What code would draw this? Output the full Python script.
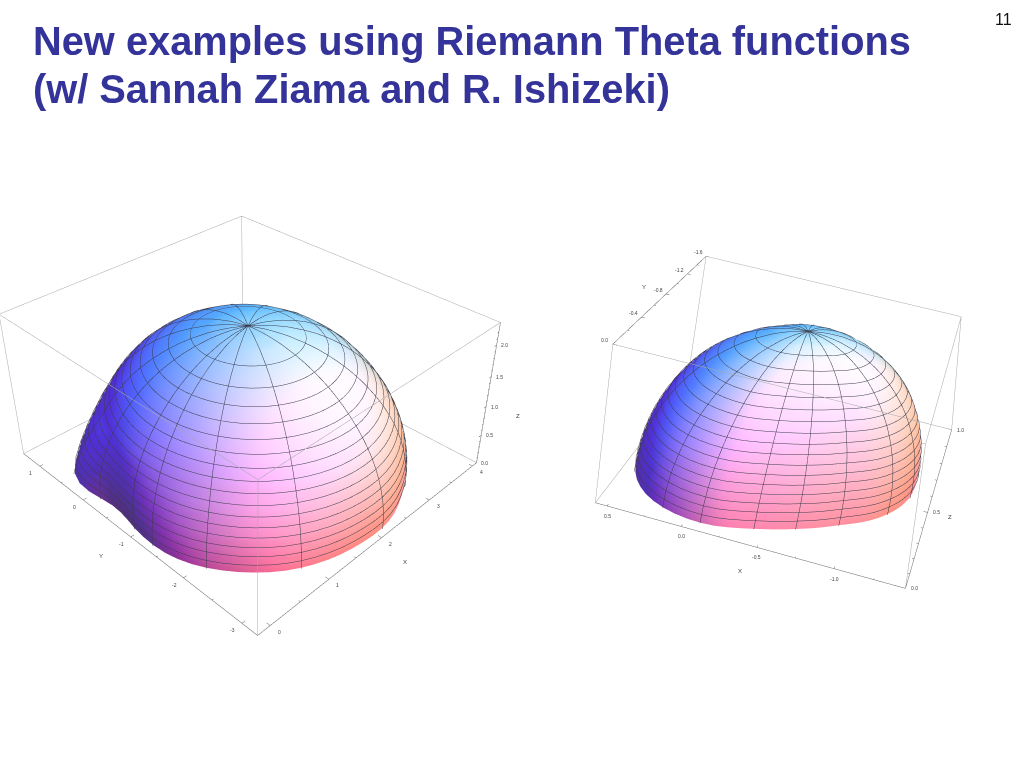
import numpy as np, plotly.graph_objects as go

TITLE = ["New examples using Riemann Theta functions", "(w/ Sannah Ziama and R. Ishizeki)"]
PAGE = "11"

# Dome outlines: radius (fraction of half box) read every 5 degrees round the box centre
rim_angle = list(range(0, 360, 5))
L_rim_base = [.954,.954,.957,.960,.963,.966,.969,.971,.973,.975,.977,.978,.979,.978,.977,.975,.973,.972,.973,.976,
              .980,.985,.990,.997,1.008,1.025,1.046,1.067,1.081,1.083,1.063,1.022,.973,.937,.923,.926,.939,.952,.966,.978,
              .986,.990,.990,.988,.986,.983,.981,.978,.973,.968,.963,.959,.955,.954,.956,.959,.960,.959,.956,.954,
              .955,.957,.961,.965,.968,.970,.970,.969,.968,.964,.960,.956]
L_rim_top = [.97] * 72
R_rim_base = [.938,.960,.977,.993,1.011,1.029,1.044,1.055,1.061,1.061,1.053,1.038,1.018,.993,.963,.927,.885,.845,.811,.784,
              .763,.745,.731,.722,.717,.714,.714,.719,.731,.748,.768,.789,.810,.833,.858,.885,.912,.941,.970,1.001,
              1.032,1.059,1.080,1.091,1.095,1.091,1.079,1.061,1.039,1.015,.992,.970,.950,.931,.910,.889,.868,.847,.827,.808,
              .791,.775,.762,.755,.758,.769,.783,.799,.817,.841,.873,.907]
# Rings: height (fraction of the peak) and ring radius (fraction of the outline)
ring_t = [0,.029,.059,.088,.118,.147,.176,.206,.235,.265,.294,.324,.353,.382,.412,.441,.471,.5,.529,.559,
          .588,.618,.647,.676,.706,.735,.765,.794,.824,.853,.882,.912,.941,.971,.98,.99,.995,1.]
ring_r = [1.,1.,.998,.996,.993,.989,.984,.979,.972,.964,.956,.946,.936,.924,.911,.897,.882,.866,.848,.829,
          .809,.786,.762,.736,.708,.678,.644,.608,.567,.522,.471,.411,.338,.241,.199,.141,.1,0.]
L_blend = [1,.935,.869,.804,.739,.673,.608,.542,.477,.412,.346,.281,.216,.15,.085,.02] + [0] * 22
R_blend = [1] * 38
L_meridians = [160,180,190,210,240,275,300,325,345,10,30,55,80,105,125,145]
R_meridians = [5,30,55,70,90,110,135,165,185,210,235,250,270,290,315,345]
ring_lines = list(range(2, 33, 2))

L_range = dict(x=(-.2, 4.1), y=(-3.25, 1.4), z=(0, 2.35))
R_range = dict(x=(-1.45, .58), y=(-1.6, 0), z=(0, 1.0))
L_peak = 2.23
R_peak = .98
L_xt = [0, 1, 2, 3, 4]; L_yt = [1, 0, -1, -2, -3]; L_zt = [0, .5, 1, 1.5, 2]
R_xt = [.5, 0, -.5, -1]; R_yt = [-1.6, -1.2, -.8, -.4, 0]; R_zt = [0, .5, 1]
L_xm = [0,.5,1,1.5,2,2.5,3,3.5,4]; L_ym = [-3,-2.5,-2,-1.5,-1,-.5,0,.5,1]
L_zm = [0,.1,.2,.3,.4,.5,.6,.7,.8,.9,1,1.1,1.2,1.3,1.4,1.5,1.6,1.7,1.8,1.9,2,2.1,2.2]
R_xm = [-1.25,-1,-.75,-.5,-.25,0,.25,.5]; R_ym = [-1.6,-1.4,-1.2,-1,-.8,-.6,-.4,-.2,0]
R_zm = [0,.1,.2,.3,.4,.5,.6,.7,.8,.9,1]

L_cam = [-1.584, -1.603, 1.543, .045, .013, .001]; L_asp = [.961, 1.030, .5]
R_cam = [-.273, 2.593, 1.248, .101, -.082, .189]; R_asp = [.907, .899, .5]

def cam(c):
    e = np.array(c[:3]); ce = np.array([c[3], c[4], 0.0]); roll = c[5]
    f = ce - e; f /= np.linalg.norm(f)
    r = np.cross(f, [0, 0, 1.0]); r /= np.linalg.norm(r)
    u = np.cross(r, f)
    return e, ce, f, np.cos(roll) * r + np.sin(roll) * u, np.cos(roll) * u - np.sin(roll) * r

LIGHTS = [((.8, 0, 0), (1.5, -.5, 2)), ((0, .8, 0), (1.5, 1.5, 2)), ((0, 0, .8), (-.5, 1.5, 2)), ((.2, 0, .26), (4, 1, 1.2))]
AMB = np.array([.312, .188, .33])
VIEW_SIZE = 1.7
GRID = "#3c3c4c"; EDGE = "#a8a8a8"; AXIS = "#666666"; TICK_TEXT = "#444444"; TITLE_COLOR = "#333399"

fig = go.Figure()

def dome(scene, rng, camc, asp, rimbase, rimtop, blend, mer, peak):
    e, ce, f, r, u = cam(camc)
    hx = (rng['x'][1] - rng['x'][0]) / 2; hy = (rng['y'][1] - rng['y'][0]) / 2
    cx = sum(rng['x']) / 2; cy = sum(rng['y']) / 2; zt = rng['z'][1]
    th = np.deg2rad(np.array(rim_angle, float))
    t = np.array(ring_t, float); b = np.array(blend, float)
    R = (np.outer(1 - b, rimtop) + np.outer(b, rimbase)) * np.array(ring_r)[:, None]
    X = cx + hx * R * np.cos(th); Y = cy + hy * R * np.sin(th); Z = np.outer(t * peak, np.ones(72))
    P = np.stack([(X - cx) / (2 * hx) * asp[0], (Y - cy) / (2 * hy) * asp[1], (Z / zt - .5) * asp[2]], -1)
    N = np.cross(np.roll(P, -1, 1) - np.roll(P, 1, 1), np.gradient(P, axis=0))
    N /= np.linalg.norm(N, axis=-1, keepdims=True) + 1e-12
    N[-1] = [0, 0, 1]
    if np.sum(N[0] * (P[0] * [1, 1, 0])) < 0:
        N = -N
    px = (P @ r)[..., None] / VIEW_SIZE; py = (P @ u)[..., None] / VIEW_SIZE
    col = np.tile(AMB, (N.shape[0], 72, 1))
    for c, l in LIGHTS:
        d = (l[0] - px) * r + (l[1] - py) * u - l[2] * f
        d /= np.linalg.norm(d, axis=-1, keepdims=True)
        col = col + np.array(c) * np.clip(np.sum(N * d, -1), 0, None)[..., None]
    col = np.clip(col, 0, 1)
    n = len(t)
    idx = lambda i, j: i * 72 + (j % 72)
    I = []; J = []; K = []
    for i in range(n - 1):
        for j in range(72):
            I += [idx(i, j), idx(i, j)]; J += [idx(i, j + 1), idx(i + 1, j + 1)]; K += [idx(i + 1, j + 1), idx(i + 1, j)]
    vc = [f"rgb({a*255:.0f},{g*255:.0f},{c*255:.0f})" for a, g, c in col.reshape(-1, 3)]
    fig.add_trace(go.Mesh3d(x=X.ravel(), y=Y.ravel(), z=Z.ravel(), i=I, j=J, k=K, vertexcolor=vc, flatshading=False,
                            lighting=dict(ambient=1, diffuse=0, specular=0, fresnel=0, roughness=1),
                            hoverinfo="skip", scene=scene, showscale=False))
    lx = []; ly = []; lz = []
    o = 1.006
    for i in ring_lines:
        lx += list(cx + (X[i] - cx) * o) + [cx + (X[i, 0] - cx) * o, None]
        ly += list(cy + (Y[i] - cy) * o) + [cy + (Y[i, 0] - cy) * o, None]
        lz += list(Z[i]) + [Z[i, 0], None]
    for a in mer:
        j = int(a / 5) % 72
        lx += list(cx + (X[:, j] - cx) * o) + [None]; ly += list(cy + (Y[:, j] - cy) * o) + [None]; lz += list(Z[:, j] * 1.003) + [None]
    fig.add_trace(go.Scatter3d(x=lx, y=ly, z=lz, mode="lines", line=dict(color=GRID, width=1), hoverinfo="skip", scene=scene, showlegend=False))

def box(scene, rng, axes):
    x0, x1 = rng['x']; y0, y1 = rng['y']; z0, z1 = rng['z']
    C = lambda a, b, c: ((x0, x1)[a], (y0, y1)[b], (z0, z1)[c])
    gap = (None,) * 3
    seq = [C(0,0,0),C(1,0,0),C(1,1,0),C(0,1,0),C(0,0,0),gap,C(0,0,1),C(1,0,1),C(1,1,1),C(0,1,1),C(0,0,1),gap,
           C(0,0,0),C(0,0,1),gap,C(1,0,0),C(1,0,1),gap,C(1,1,0),C(1,1,1),gap,C(0,1,0),C(0,1,1)]
    fig.add_trace(go.Scatter3d(x=[p[0] for p in seq], y=[p[1] for p in seq], z=[p[2] for p in seq], mode="lines",
                               line=dict(color=EDGE, width=1), hoverinfo="skip", scene=scene, showlegend=False))
    pts = []
    for (a, b, c, ticks, major, d) in axes:
        for v in ticks:
            L = .012 if v in major else .006
            if d == 'x':
                s = C(0, b, c); p = [v, s[1], s[2]]; q = [v, s[1] + (y1 - y0) * (1 if b == 0 else -1) * L, s[2]]
            elif d == 'y':
                s = C(a, 0, c); p = [s[0], v, s[2]]; q = [s[0] + (x1 - x0) * (1 if a == 0 else -1) * L, v, s[2]]
            else:
                s = C(a, b, 0); p = [s[0], s[1], v]; q = [s[0] + (x1 - x0) * (1 if a == 0 else -1) * L, s[1], v]
            pts += [p, q, [None] * 3]
        l = {'x': [C(0,b,c), C(1,b,c)], 'y': [C(a,0,c), C(a,1,c)], 'z': [C(a,b,0), C(a,b,1)]}[d]
        pts += [list(l[0]), list(l[1]), [None] * 3]
    fig.add_trace(go.Scatter3d(x=[p[0] for p in pts], y=[p[1] for p in pts], z=[p[2] for p in pts], mode="lines",
                               line=dict(color=AXIS, width=1), hoverinfo="skip", scene=scene, showlegend=False))

dome("scene", L_range, L_cam, L_asp, L_rim_base, L_rim_top, L_blend, L_meridians, L_peak)
box("scene", L_range, [(0,0,0,L_xm,L_xt,'x'), (0,0,0,L_ym,L_yt,'y'), (1,0,0,L_zm,L_zt,'z')])
dome("scene2", R_range, R_cam, R_asp, R_rim_base, R_rim_base, R_blend, R_meridians, R_peak)
box("scene2", R_range, [(0,1,0,R_xm,R_xt,'x'), (1,0,1,R_ym,R_yt,'y'), (0,1,0,R_zm,R_zt,'z')])

def ann(vals, fn, fmt, xs, ys):
    return [dict(x=fn(v)[0], y=fn(v)[1], z=fn(v)[2], text=fmt(v), showarrow=False, xshift=xs, yshift=ys,
                 font=dict(size=5, color=TICK_TEXT, family="Liberation Sans")) for v in vals]

def scene(dom, rng, c, asp, anns):
    e, ce, f, r, u = cam(c)
    def ax(k):
        a, b = rng[k]; p = (b - a) * .002
        return dict(visible=False, range=[a - p, b + p])
    return dict(domain=dict(x=dom, y=[0, 1]), aspectmode="manual", aspectratio=dict(x=asp[0], y=asp[1], z=asp[2]),
                bgcolor="rgba(0,0,0,0)",
                camera=dict(eye=dict(x=e[0], y=e[1], z=e[2]), center=dict(x=ce[0], y=ce[1], z=0), up=dict(x=u[0], y=u[1], z=u[2])),
                xaxis=ax('x'), yaxis=ax('y'), zaxis=ax('z'), annotations=anns)

fx = lambda v: f"{v:g}"; f1 = lambda v: f"{v:.1f}"
Lan = (ann(L_xt, lambda v: (v, L_range['y'][0], 0), fx, 9, -6) + ann(L_yt, lambda v: (L_range['x'][0], v, 0), fx, -9, -7)
       + ann(L_zt, lambda v: (L_range['x'][1], L_range['y'][0], v), f1, 8, 0))
Ran = (ann(R_xt, lambda v: (v, 0, 0), f1, 0, -10) + ann(R_yt, lambda v: (R_range['x'][1], v, 1), f1, -8, 4)
       + ann(R_zt, lambda v: (R_range['x'][0], 0, v), f1, 9, 0))
axis_titles = [("Y", 101, 556), ("X", 405, 562), ("Z", 518, 416), ("X", 740, 571), ("Y", 644, 287), ("Z", 950, 517)]
A = []
for line, y in zip(TITLE, (41, 89)):
    A.append(dict(x=31/1024, y=1-y/768, xref="paper", yref="paper", xanchor="left", yanchor="middle", showarrow=False,
                  text="<b>"+line+"</b>", font=dict(family="Liberation Sans", size=39.8, color=TITLE_COLOR)))
A.append(dict(x=1003/1024, y=1-20/768, xref="paper", yref="paper", xanchor="center", yanchor="middle", showarrow=False,
              text=PAGE, font=dict(family="Liberation Sans", size=16, color="#111")))
for t, x, y in axis_titles:
    A.append(dict(x=x/1024, y=1-y/768, xref="paper", yref="paper", xanchor="center", yanchor="middle", showarrow=False,
                  text=t, font=dict(family="Liberation Sans", size=6, color=TICK_TEXT)))
fig.update_layout(width=1024, height=768, margin=dict(l=0, r=0, t=0, b=0), paper_bgcolor="white", plot_bgcolor="white",
                  scene=scene([0, .5], L_range, L_cam, L_asp, Lan), scene2=scene([.5, 1], R_range, R_cam, R_asp, Ran),
                  annotations=A, showlegend=False)
fig.write_html("out.html", config=dict(displayModeBar=False), post_script="document.body.style.margin='0';")
